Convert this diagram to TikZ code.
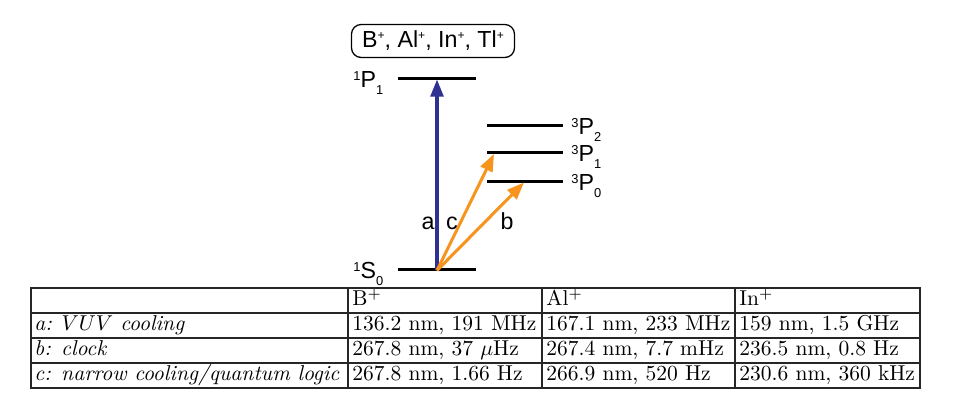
\documentclass[tikz,border=0pt]{standalone}
\usepackage{fontspec}
\newfontfamily\arialf{Liberation Sans}
\usetikzlibrary{arrows.meta}
\definecolor{levelblue}{HTML}{2E3192}
\definecolor{laserorange}{HTML}{F7941D}
\newcommand\specterm[3]{\raisebox{3.6pt}{\fontsize{6}{6}\selectfont #1}#2\raisebox{-3.2pt}{\fontsize{6}{6}\selectfont #3}}
\newcommand\ionplus{\raisebox{3.9pt}{\fontsize{5.6}{6}\selectfont +}}
\begin{document}
\begin{tikzpicture}[x=0.465pt,y=-0.465pt,
  level/.style={line width=1.4pt, black},
  lbl/.style={font=\arialf\fontsize{10.8}{12}\selectfont, inner sep=0, anchor=base west},
  beamlbl/.style={font=\arialf\fontsize{10.8}{12}\selectfont, inner sep=0, anchor=base},
  beam/.style={line width=1.4pt, -{Triangle[length=8pt,width=6pt]}},
  cell/.style={font=\fontsize{10}{12}\selectfont, anchor=base west, inner sep=0},
  gridline/.style={line width=0.5pt, black!85}]
\useasboundingbox (0,0) rectangle (962,409);

% ion box
\node[draw, line width=0.6pt, rounded corners=4.5pt, minimum width=163*0.465pt, minimum height=33*0.465pt,
  inner sep=0, font=\arialf\fontsize{10.8}{12}\selectfont] (ions) at (433,41)
  {B\ionplus, Al\ionplus, In\ionplus, Tl\ionplus};

% level coordinates
\coordinate (p1l) at (398,79);  \coordinate (p1r) at (476,79);
\coordinate (s0l) at (398,270); \coordinate (s0r) at (476,270);
\coordinate (t2l) at (487,126); \coordinate (t2r) at (563,126);
\coordinate (t1l) at (487,153); \coordinate (t1r) at (563,153);
\coordinate (t0l) at (487,182); \coordinate (t0r) at (563,182);

\draw[level] (p1l) -- (p1r);
\draw[level] (s0l) -- (s0r);
\draw[level] (t2l) -- (t2r);
\draw[level] (t1l) -- (t1r);
\draw[level] (t0l) -- (t0r);

% level labels
\node[lbl] (lp1) at (353,88) {\specterm{1}{P}{1}};
\node[lbl] (ls0) at (353,279) {\specterm{1}{S}{0}};
\node[lbl] (lt2) at (571,135) {\specterm{3}{P}{2}};
\node[lbl] (lt1) at (571,162) {\specterm{3}{P}{1}};
\node[lbl] (lt0) at (571,191) {\specterm{3}{P}{0}};

% transitions
\coordinate (base) at (437,270.5);
\coordinate (tipa) at (437,79.5);
\coordinate (tipc) at (494,154);
\coordinate (tipb) at (524,182.5);
\draw[beam, levelblue] (base) -- (tipa);
\draw[beam, laserorange] (base) -- (tipc);
\draw[beam, laserorange] (base) -- (tipb);

\node[beamlbl] (la) at (428,230) {a};
\node[beamlbl] (lc) at (452,230) {c};
\node[beamlbl] (lb) at (507,230) {b};

% table grid
\draw[gridline] (31,288) rectangle (920,388);
\foreach \yy in {313,338,363} \draw[gridline] (31,\yy) -- (920,\yy);
\foreach \xx in {348,542,735} \draw[gridline] (\xx,288) -- (\xx,388);

% header
\node[cell] (hb) at (352,306) {B$^+$};
\node[cell] (hal) at (546,306) {Al$^+$};
\node[cell] (hin) at (739,306) {In$^+$};

% row a
\node[cell] (ra) at (34,331) {\textit{a:} $VUV$ \textit{cooling}};
\node[cell] (ra1) at (352,331) {136.2 nm, 191 MHz};
\node[cell] (ra2) at (546,331) {167.1 nm, 233 MHz};
\node[cell] (ra3) at (739,331) {159 nm, 1.5 GHz};

% row b
\node[cell] (rb) at (34,356) {\textit{b: clock}};
\node[cell] (rb1) at (352,356) {267.8 nm, 37 $\mu$Hz};
\node[cell] (rb2) at (546,356) {267.4 nm, 7.7 mHz};
\node[cell] (rb3) at (739,356) {236.5 nm, 0.8 Hz};

% row c
\node[cell] (rc) at (34,381) {\textit{c: narrow cooling/quantum logic}};
\node[cell] (rc1) at (352,381) {267.8 nm, 1.66 Hz};
\node[cell] (rc2) at (546,381) {266.9 nm, 520 Hz};
\node[cell] (rc3) at (739,381) {230.6 nm, 360 kHz};
\end{tikzpicture}
\end{document}
